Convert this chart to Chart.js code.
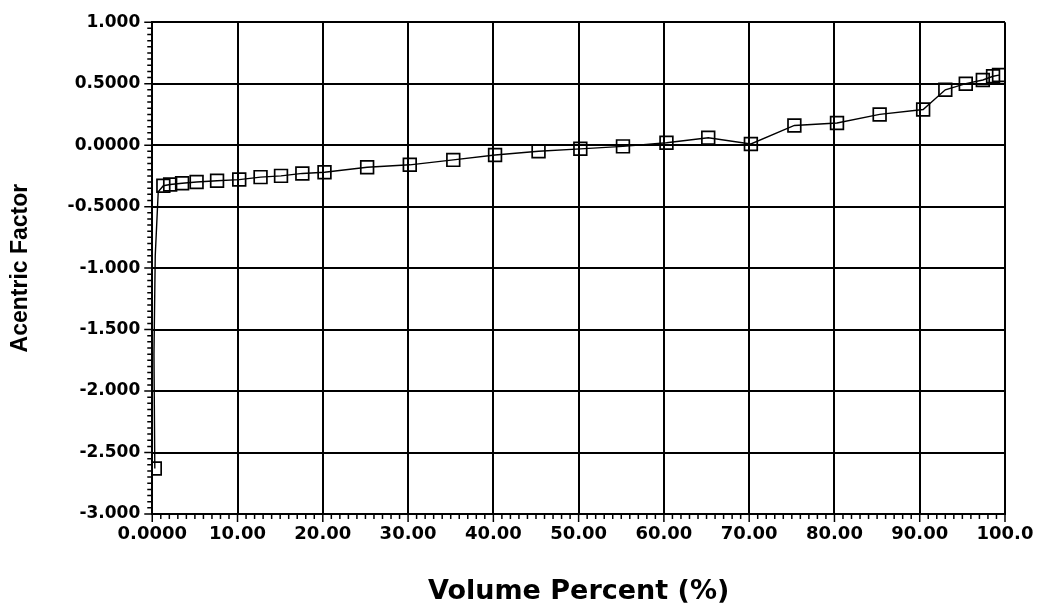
<!DOCTYPE html>
<html>
<head>
<meta charset="utf-8">
<script src="https://cdn.jsdelivr.net/npm/chart.js@4.4.1/dist/chart.umd.min.js"></script>
<style>
  html, body { margin: 0; padding: 0; background: #fff; }
  #wrap { width: 1039px; height: 611px; }
</style>
</head>
<body>
<div id="wrap"><canvas id="chart"></canvas></div>
<script>
// valores
const volPct = [0.3, 0.2, 0.35, 0.7, 1.3, 2.1, 3.5, 5.2, 7.6, 10.2, 12.7, 15.1, 17.6, 20.2, 25.2, 30.2, 35.3, 40.2, 45.3, 50.2, 55.2, 60.3, 65.2, 70.2, 75.3, 80.3, 85.3, 90.4, 93.0, 95.4, 97.4, 98.6, 99.3];
const acentric = [-2.63, -1.70, -0.90, -0.38, -0.33, -0.32, -0.31, -0.30, -0.29, -0.28, -0.26, -0.25, -0.23, -0.22, -0.18, -0.16, -0.12, -0.08, -0.05, -0.03, -0.01, 0.02, 0.06, 0.01, 0.16, 0.18, 0.25, 0.29, 0.45, 0.50, 0.53, 0.56, 0.57];
const markerShown = [1, 0, 0, 0, 1, 1, 1, 1, 1, 1, 1, 1, 1, 1, 1, 1, 1, 1, 1, 1, 1, 1, 1, 1, 1, 1, 1, 1, 1, 1, 1, 1, 1];

const xTicks = [0, 10, 20, 30, 40, 50, 60, 70, 80, 90, 100];
const xTickLabels = ["0.0000", "10.00", "20.00", "30.00", "40.00", "50.00", "60.00", "70.00", "80.00", "90.00", "100.0"];
const yTicks = [1, 0.5, 0, -0.5, -1, -1.5, -2, -2.5, -3];
const yTickLabels = ["1.000", "0.5000", "0.0000", "-0.5000", "-1.000", "-1.500", "-2.000", "-2.500", "-3.000"];

const points = volPct.map((x, i) => ({ x: x, y: acentric[i] }));

// marcas menores en los ejes
const minorTicks = {
  id: "minorTicks",
  afterDraw(chart) {
    const ctx = chart.ctx;
    const xs = chart.scales.x, ys = chart.scales.y;
    const area = chart.chartArea;
    ctx.save();
    ctx.strokeStyle = "#000";
    ctx.lineWidth = 1.5;
    ctx.beginPath();
    for (let v = 0; v <= 100; v += 1) {
      const px = xs.getPixelForValue(v);
      const len = v % 10 === 0 ? 8 : 5;
      ctx.moveTo(px, area.bottom);
      ctx.lineTo(px, area.bottom + len);
    }
    for (let k = 0; k <= 80; k++) {
      const v = -3 + k * 0.05;
      const py = ys.getPixelForValue(v);
      const len = k % 10 === 0 ? 8 : 5;
      ctx.moveTo(area.left, py);
      ctx.lineTo(area.left - len, py);
    }
    ctx.stroke();
    ctx.restore();
  }
};

new Chart(document.getElementById("chart").getContext("2d"), {
  type: "scatter",
  data: {
    datasets: [{
      data: points,
      showLine: true,
      borderColor: "#000",
      borderWidth: 1.4,
      pointStyle: "rect",
      pointRadius: markerShown.map(m => m ? 9 : 0),
      pointBorderColor: "#000",
      pointBorderWidth: 1.7,
      pointBackgroundColor: "rgba(0,0,0,0)",
      tension: 0
    }]
  },
  options: {
    responsive: true,
    maintainAspectRatio: false,
    animation: false,
    layout: { padding: { top: 16, right: 34, bottom: 3, left: 7 } },
    plugins: {
      legend: { display: false },
      tooltip: { enabled: false }
    },
    scales: {
      x: {
        type: "linear",
        min: 0,
        max: 100,
        afterBuildTicks: (s) => { s.ticks = xTicks.map(v => ({ value: v })); },
        afterFit: (s) => { s.paddingRight = 20; },
        ticks: {
          color: "#000",
          font: { family: "DejaVu Sans", size: 18, weight: "bold" },
          padding: 10,
          maxRotation: 0,
          callback: (v) => xTickLabels[xTicks.indexOf(v)]
        },
        grid: { color: "#000", lineWidth: 2, drawTicks: false },
        border: { color: "#000", width: 2 },
        title: {
          display: true,
          text: "Volume Percent (%)",
          color: "#000",
          font: { family: "DejaVu Sans", size: 27, weight: "bold" },
          padding: { top: 20, bottom: 0 }
        }
      },
      y: {
        type: "linear",
        min: -3,
        max: 1,
        afterBuildTicks: (s) => { s.ticks = yTicks.map(v => ({ value: v })); },
        ticks: {
          color: "#000",
          font: { family: "DejaVu Sans", size: 17, weight: "bold" },
          padding: 12,
          callback: (v) => yTickLabels[yTicks.indexOf(v)]
        },
        grid: { color: "#000", lineWidth: 2, drawTicks: false },
        border: { color: "#000", width: 2 },
        title: {
          display: true,
          text: "Acentric Factor",
          color: "#000",
          font: { family: "Liberation Sans", size: 23, weight: "bold" },
          padding: { top: 0, bottom: 21 }
        }
      }
    }
  },
  plugins: [minorTicks]
});
</script>
</body>
</html>
